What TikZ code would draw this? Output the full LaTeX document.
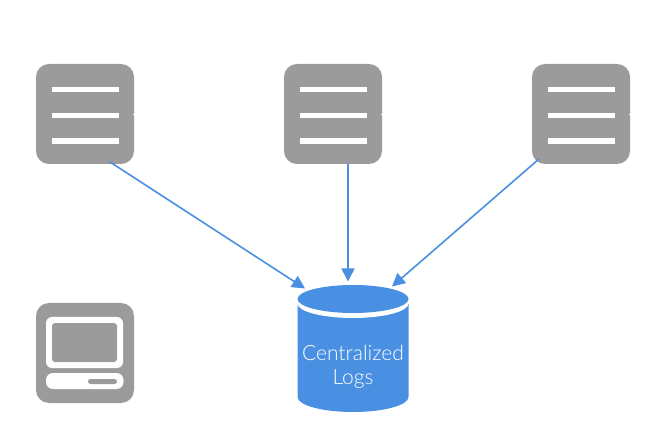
\documentclass[tikz,border=0pt]{standalone}
\usepackage{fontspec}
\setmainfont{Lato Light}
\usetikzlibrary{arrows.meta}
\definecolor{boxgray}{HTML}{9B9B9B}
\definecolor{logblue}{HTML}{4A90E2}
\tikzset{
  x=1pt,y=-1pt,
  iconbox/.style={fill=boxgray,draw=none,rounded corners=13pt,minimum width=98pt,minimum height=100pt,inner sep=0pt,outer sep=0pt},
  bar/.style={fill=white,draw=none},
  feed/.style={draw=logblue,line width=1.6pt,-{Triangle[length=13pt,width=13pt]}},
  dbfill/.style={fill=logblue,draw=none},
  dblabel/.style={text=white,font=\fontsize{21}{24}\selectfont,align=center,inner sep=0pt}
}
\newcommand{\srvbars}[1]{%
  \foreach \yy in {87,113,138.5}{
    \fill[bar] (#1-33.5,\yy) rectangle (#1+33.5,\yy+5.5);
  }
  \fill[bar] (#1+48,113.6) rectangle (#1+50,114.6);
}
\begin{document}
\begin{tikzpicture}
\useasboundingbox (0,0) rectangle (666,427);
\fill[white] (0,0) rectangle (666,427);
% servers
\node[iconbox] (s1) at (85,114) {};
\node[iconbox] (s2) at (333,114) {};
\node[iconbox] (s3) at (581,114) {};
\srvbars{85}\srvbars{333}\srvbars{581}
% computer
\node[iconbox] (pc) at (85,353) {};
\fill[white,rounded corners=6pt] (46,317) rectangle (123,368);
\fill[boxgray,rounded corners=3pt] (52,323) rectangle (117,362);
\fill[white,rounded corners=7pt] (46,373) rectangle (123.5,389);
\fill[boxgray,rounded corners=2.5pt] (88,379) rectangle (117,384);
% database
\fill[dbfill] (297.5,304) -- (297.5,397) arc[start angle=180,end angle=0,x radius=55.5,y radius=15] -- (408.5,304) -- cycle;
\fill[white] (297.5,299) -- (297.5,303.5) arc[start angle=180,end angle=0,x radius=55.5,y radius=14.5] -- (408.5,299) -- cycle;
\fill[dbfill] (353,299) ellipse[x radius=55.5,y radius=14];
\node[inner sep=0pt,outer sep=0pt,minimum width=111pt,minimum height=127pt] (db) at (353,349) {};
\node[dblabel] (lbl) at (353,366.5) {Centralized\\Logs};
% connectors
\draw[feed] ([xshift=25pt,yshift=2pt]s1.south) -- ([xshift=-48pt,yshift=-3pt]db.north);
\draw[feed] ([xshift=15pt]s2.south) -- ([xshift=-5pt,yshift=4pt]db.north);
\draw[feed] ([xshift=-42pt,yshift=5pt]s3.south) -- ([xshift=39pt,yshift=-1pt]db.north);
\end{tikzpicture}
\end{document}
